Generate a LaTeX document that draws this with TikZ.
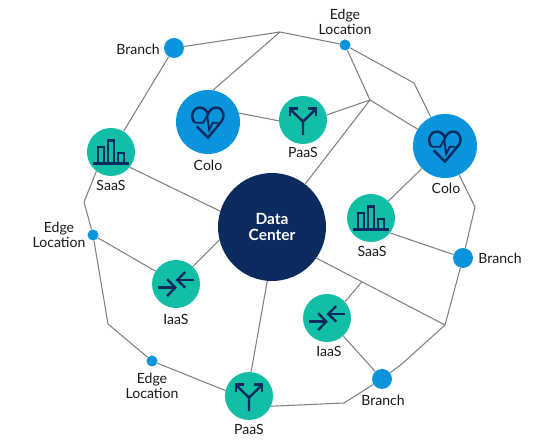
\documentclass[tikz,border=0pt]{standalone}
\usepackage{fontspec}
\setmainfont{Lato}
\definecolor{navyc}{HTML}{0B2A5E}
\definecolor{bluec}{HTML}{0A94DB}
\definecolor{tealc}{HTML}{12BFA6}
\definecolor{linec}{HTML}{808080}
\tikzset{
  hubnode/.style={circle,fill=navyc,text=white,minimum size=2.7cm,inner sep=0pt,align=center,font=\fontseries{b}\selectfont\fontsize{11}{11.5}\selectfont},
  colonode/.style={circle,fill=bluec,minimum size=1.6cm,inner sep=0pt},
  cloudnode/.style={circle,fill=tealc,minimum size=1.2cm,inner sep=0pt},
  branchnode/.style={circle,fill=bluec,minimum size=0.5cm,inner sep=0pt},
  edgenode/.style={circle,fill=bluec,minimum size=0.275cm,inner sep=0pt},
  txt/.style={text=black!90,align=center,inner sep=0pt,font=\fontsize{10}{10.8}\selectfont},
  link/.style={linec,line width=0.75pt},
  icon/.style={navyc,line width=1.7pt},
  pics/heartglyph/.style={code={
    \draw[icon] (-0.33,-0.02) .. controls (-0.45,0.12) and (-0.4,0.36) .. (-0.2,0.36) .. controls (-0.1,0.36) and (-0.03,0.28) .. (0,0.2) .. controls (0.03,0.28) and (0.1,0.36) .. (0.2,0.36) .. controls (0.4,0.36) and (0.45,0.12) .. (0.3,-0.03) -- (0,-0.39) -- (-0.28,-0.11);
    \draw[icon,line width=1.3pt] (-0.33,-0.02) -- (-0.12,-0.02) -- (-0.02,0.16) -- (0.03,-0.2) -- (0.12,-0.02) -- (0.26,-0.02);
  }},
  pics/barsglyph/.style={code={
    \draw[icon] (-0.44,-0.29) -- (0.44,-0.29);
    \draw[icon] (-0.33,-0.29) rectangle (-0.17,0.12);
    \draw[icon] (-0.08,-0.29) rectangle (0.08,0.29);
    \draw[icon] (0.17,-0.29) rectangle (0.33,-0.02);
  }},
  pics/splitglyph/.style={code={
    \draw[icon] (0,-0.38) -- (0,-0.04) -- (-0.32,0.27);
    \draw[icon] (0,-0.04) -- (0.32,0.27);
    \draw[icon] (-0.33,0.09) -- (-0.33,0.29) -- (-0.13,0.29);
    \draw[icon] (0.33,0.09) -- (0.33,0.29) -- (0.13,0.29);
  }},
  pics/mergeglyph/.style={code={
    \draw[icon] (-0.45,-0.09) -- (-0.02,-0.09);
    \draw[icon] (-0.22,0.12) -- (-0.02,-0.09) -- (-0.22,-0.3);
    \draw[icon] (0.46,0.1) -- (0.03,0.1);
    \draw[icon] (0.23,0.3) -- (0.03,0.1) -- (0.23,-0.09);
  }}
}
\begin{document}
\begin{tikzpicture}[scale=1]

  \useasboundingbox (0,0) rectangle (13.5,11);

  % Data center
  \node[hubnode] (hub) at (6.8,5.325) {Data\\Center};

  % Colo sites
  \node[colonode] (coloa) at (5.2,7.95) {};
  \node[colonode] (colob) at (11.125,7.35) {};

  % Cloud services
  \node[cloudnode] (paasa) at (7.575,8) {};
  \node[cloudnode] (paasb) at (6.225,1.1) {};
  \node[cloudnode] (saasa) at (2.775,7.2) {};
  \node[cloudnode] (saasb) at (9.275,5.55) {};
  \node[cloudnode] (iaasa) at (4.4,3.9) {};
  \node[cloudnode] (iaasb) at (8.175,3.05) {};

  % Branches
  \node[branchnode] (brancha) at (4.35,9.8) {};
  \node[branchnode] (branchb) at (11.575,4.55) {};
  \node[branchnode] (branchc) at (9.55,1.525) {};

  % Edge locations
  \node[edgenode] (edgea) at (8.625,9.875) {};
  \node[edgenode] (edgeb) at (2.325,5.125) {};
  \node[edgenode] (edgec) at (3.8,1.975) {};

  % Bends and junctions
  \coordinate (jtop) at (7,10.2);
  \coordinate (jhub) at (9.25,8.5);
  \coordinate (jne) at (10.35,8.925);
  \coordinate (jeast) at (11.875,5.825);
  \coordinate (jse) at (11.125,2.875);
  \coordinate (jsouth) at (10.075,1.925);
  \coordinate (jbot) at (8.6,0.925);
  \coordinate (jsw) at (2.7,2.9);
  \coordinate (jwest) at (2.1,5.95);
  \coordinate (jiaas) at (9.05,3.96);

  % Outer ring
  \draw[link] (brancha) -- (jtop) -- (edgea) -- (jne) -- (colob);
  \draw[link] (colob) -- (jeast) -- (branchb);
  \draw[link] (branchb) -- (jse) -- (jsouth) -- (branchc);
  \draw[link] (branchc) -- (jbot) -- (paasb.-25);
  \draw[link] (paasb.167) -- (edgec);
  \draw[link] (edgec) -- (jsw) -- (edgeb);
  \draw[link] (edgeb) -- (jwest) -- (saasa.233);
  \draw[link] (saasa) -- (brancha);

  % Inner links
  \draw[link] (jtop) -- (coloa.81);
  \draw[link] (coloa.16) -- (paasa.182);
  \draw[link] (paasa.12) -- (jhub);
  \draw[link] (edgea) -- (jhub);
  \draw[link] (jhub) -- (colob);
  \draw[link] (jhub) -- (hub);
  \draw[link] (colob) -- (saasb);
  \draw[link] (saasb.-38) -- (branchb.160);
  \draw[link] (hub.-35) -- (jse);
  \draw[link] (iaasb.42) -- (jiaas);
  \draw[link] (iaasb) -- (branchc);
  \draw[link] (hub.-95) -- (paasb.85);
  \draw[link] (hub.194) -- (iaasa.46);
  \draw[link] (iaasa.148) -- (edgeb);
  \draw[link] (hub.163) -- (saasa.-39);

  % Icons
  \pic at (coloa) {heartglyph};
  \pic at (colob) {heartglyph};
  \pic at (paasa) {splitglyph};
  \pic at (paasb) {splitglyph};
  \pic at (saasa) {barsglyph};
  \pic at (saasb) {barsglyph};
  \pic at (iaasa) {mergeglyph};
  \pic at (iaasb) {mergeglyph};

  % Labels
  \node[txt] (lbrancha) at (3.45,9.775) {Branch};
  \node[txt] (lbranchb) at (12.5,4.55) {Branch};
  \node[txt] (lbranchc) at (9.575,1) {Branch};
  \node[txt] (ledgea) at (8.625,10.46) {Edge\\Location};
  \node[txt] (ledgeb) at (1.475,5.125) {Edge\\Location};
  \node[txt] (ledgec) at (3.8,1.35) {Edge\\Location};
  \node[txt] (lcoloa) at (5.2,6.875) {Colo};
  \node[txt] (lcolob) at (11.15,6.3) {Colo};
  \node[txt] (lpaasa) at (7.575,7.2) {PaaS};
  \node[txt] (lpaasb) at (6.225,0.275) {PaaS};
  \node[txt] (lsaasa) at (2.775,6.375) {SaaS};
  \node[txt] (lsaasb) at (9.3,4.725) {SaaS};
  \node[txt] (liaasa) at (4.4,3.025) {IaaS};
  \node[txt] (liaasb) at (8.225,2.225) {IaaS};

\end{tikzpicture}
\end{document}
